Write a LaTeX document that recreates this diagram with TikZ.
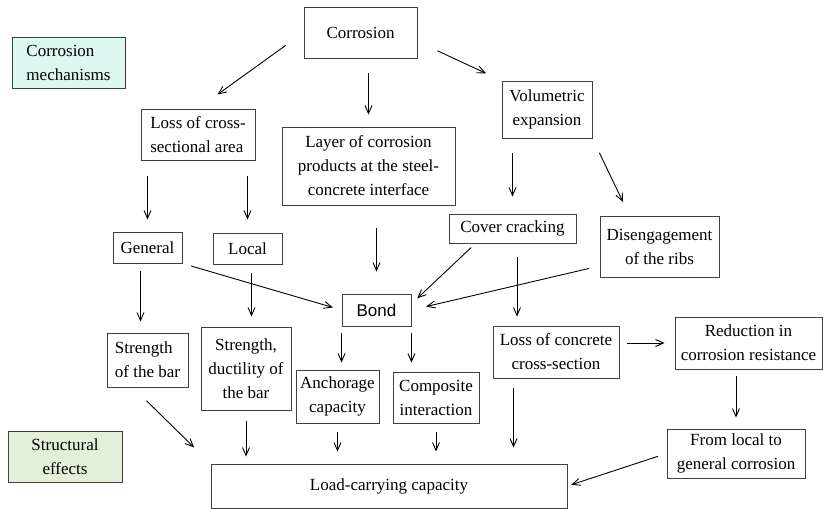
\documentclass[tikz,border=0pt]{standalone}
\usepackage{fontspec}
\setmainfont{Liberation Serif}
\newfontfamily\bondfont{Liberation Sans}
\usetikzlibrary{arrows.meta,calc}
\definecolor{mechfill}{HTML}{DDF7F1}
\definecolor{effectfill}{HTML}{E2F0D9}
\definecolor{edge}{HTML}{404040}

\begin{document}
\begin{tikzpicture}[
  x=1pt, y=-1pt,
  box/.style={draw=edge, line width=0.9pt, inner sep=2pt, align=center, font=\fontsize{17}{24}\selectfont},
  arr/.style={-{Straight Barb[length=8pt,width=7pt]}, line width=0.9pt}
]
  \useasboundingbox (0,0) rectangle (823,509);

  % legend boxes
  \node[box, fill=mechfill, align=left, minimum width=113pt, minimum height=51pt] (mech) at (68.5,62.5) {Corrosion\\mechanisms};
  \node[box, fill=effectfill, minimum width=114pt, minimum height=51pt] (effects) at (65,456.5) {Structural\\effects};

  % mechanisms
  \node[box, minimum width=113pt, minimum height=51pt] (corr) at (360.5,32.5) {Corrosion};
  \node[box, align=left, minimum width=114pt, minimum height=51pt] (loss) at (198,134.5) {Loss of cross-\\sectional area};
  \node[box, minimum width=173pt, minimum height=78pt] (layer) at (368.5,166) {Layer of corrosion\\products at the steel-\\concrete interface};
  \node[box, minimum width=90pt, minimum height=57pt] (vol) at (547,109.5) {Volumetric\\expansion};
  \node[box, minimum width=127pt, minimum height=29pt] (cover) at (512.5,228.5) {Cover cracking};
  \node[box, minimum width=119pt, minimum height=61pt] (ribs) at (659.5,246.5) {Disengagement\\of the ribs};
  \node[box, minimum width=69pt, minimum height=31pt] (general) at (147.5,247.5) {General};
  \node[box, minimum width=69pt, minimum height=31pt] (local) at (247.5,248.5) {Local};
  \node[box, font=\bondfont\fontsize{17}{24}\selectfont, minimum width=69pt, minimum height=32pt] (bond) at (376.5,310) {Bond};

  % effects
  \node[box, align=left, minimum width=81pt, minimum height=54pt] (barstr) at (147.5,360) {Strength\\of the bar};
  \node[box, minimum width=90pt, minimum height=83pt] (bardu) at (246,368.5) {Strength,\\ductility of\\the bar};
  \node[box, minimum width=83pt, minimum height=53pt] (anch) at (337.5,396.5) {Anchorage\\capacity};
  \node[box, minimum width=86pt, minimum height=51pt] (comp) at (436,397.5) {Composite\\interaction};
  \node[box, minimum width=126pt, minimum height=52pt] (concr) at (556,352) {Loss of concrete\\cross-section};
  \node[box, minimum width=147pt, minimum height=52pt] (resist) at (748.5,343) {Reduction in\\corrosion resistance};
  \node[box, minimum width=138pt, minimum height=49pt] (spread) at (736,453.5) {From local to\\general corrosion};
  \node[box, minimum width=356pt, minimum height=44pt] (load) at (389,486) {Load-carrying capacity};

  % arrows
  \draw[arr, shorten <=22pt, shorten >=24pt] (corr.west) -- (loss.north);
  \draw[arr, shorten <=15pt, shorten >=12pt] (layer.north |- corr.south) -- (layer.north);
  \draw[arr, shorten <=22pt, shorten >=17pt] (corr.-9) -- (vol.north west);
  \draw[arr, shorten <=16pt, shorten >=12pt] (general.north |- loss.south) -- (general.north);
  \draw[arr, shorten <=16pt, shorten >=13pt] (local.north |- loss.south) -- (local.north);
  \draw[arr, shorten <=23pt, shorten >=22pt] (bond.north |- layer.south) -- (bond.north);
  \draw[arr, shorten <=15pt, shorten >=17pt] (cover.north |- vol.south) -- (cover.north);
  \draw[arr, shorten <=16pt, shorten >=15pt] (vol.south east) -- ($(ribs.north west)!.25!(ribs.north east)$);
  \draw[arr, shorten <=9pt, shorten >=9pt] (general.south east) -- (bond.west);
  \draw[arr, shorten <=6pt, shorten >=8pt] (cover.202) -- (bond.10);
  \draw[arr, shorten <=11pt, shorten >=15pt] (ribs.198) -- (bond.east);
  \draw[arr, shorten <=8pt, shorten >=11pt] ([xshift=-7pt]general.south) -- ([xshift=-7pt]general.south |- barstr.north);
  \draw[arr, shorten <=9pt, shorten >=10pt] ([xshift=4pt]local.south) -- ([xshift=4pt]local.south |- bardu.north);
  \draw[arr, shorten <=14pt, shorten >=9pt] ([xshift=4.5pt]cover.south) -- ([xshift=4.5pt]cover.south |- concr.north);
  \draw[arr, shorten <=7pt, shorten >=7pt] (bond.south west) -- (bond.south west |- anch.north);
  \draw[arr, shorten <=7pt, shorten >=9pt] (bond.south east) -- (bond.south east |- comp.north);
  \draw[arr, shorten <=8pt, shorten >=10pt] (concr.east |- resist.west) -- (resist.west);
  \draw[arr, shorten <=19pt, shorten >=23pt] (barstr.242) -- (load.north west);
  \draw[arr, shorten <=11pt, shorten >=7pt] (bardu.south) -- (bardu.south |- load.north);
  \draw[arr, shorten <=9pt, shorten >=12pt] (anch.south) -- (anch.south |- load.north);
  \draw[arr, shorten <=9pt, shorten >=12pt] (comp.south) -- (comp.south |- load.north);
  \draw[arr, shorten <=10pt, shorten >=16pt] ([xshift=21pt]concr.south west) -- ([xshift=21pt]concr.south west |- load.north);
  \draw[arr, shorten <=7pt, shorten >=11pt] (spread.north |- resist.south) -- (spread.north);
  \draw[arr, shorten <=9pt, shorten >=4pt] (spread.west) -- (load.east);
\end{tikzpicture}
\end{document}
